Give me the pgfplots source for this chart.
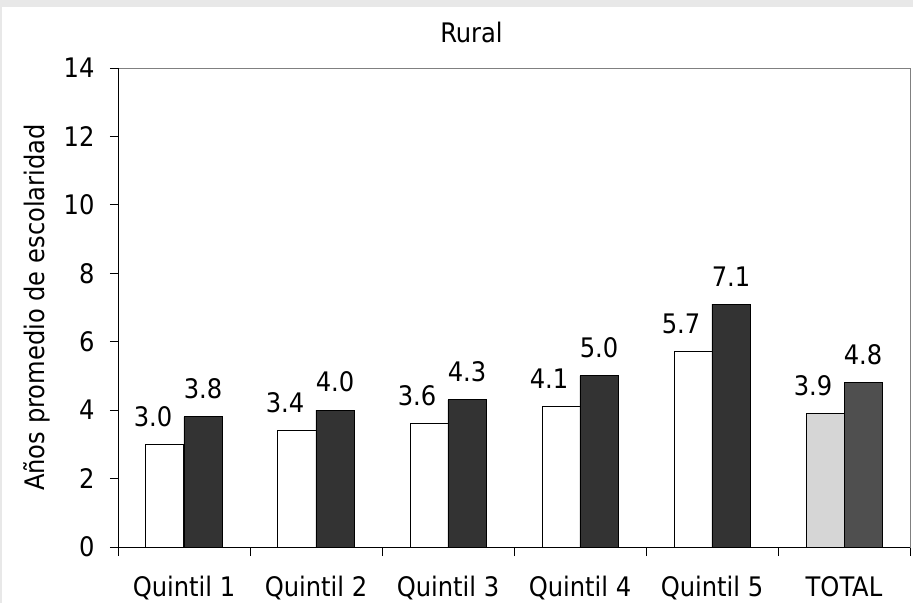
\documentclass[border=0pt]{standalone}
\usepackage{fontspec}
\setmainfont{DejaVu Sans Condensed}
\usepackage{pgfplots}
\pgfplotsset{compat=1.18}

\definecolor{framegray}{HTML}{E8E8E8}
\definecolor{darkbar}{HTML}{333333}
\definecolor{totlight}{HTML}{D6D6D6}
\definecolor{totdark}{HTML}{4F4F4F}

\newcommand{\lbl}{\fontsize{27}{30}\selectfont}

\begin{document}
\begin{tikzpicture}
  % background panel
  \fill[framegray] (-118bp,-56bp) rectangle (795bp,547bp);
  \fill[white] (-116bp,-56bp) rectangle (795bp,540bp);
  \begin{axis}[
      at={(0,0)}, anchor=south west,
      scale only axis, width=792bp, height=479bp,
      xmin=-0.5, xmax=5.5, ymin=0, ymax=14,
      ytick={0,2,...,14},
      xtick={0,...,5},
      xticklabels={Quintil 1,Quintil 2,Quintil 3,Quintil 4,Quintil 5,TOTAL},
      minor xtick={-0.5,0.5,...,5.5},
      xtick pos=bottom, ytick pos=left,
      tick align=outside,
      major tick length=8bp, minor tick length=9bp,
      major x tick style={draw=none},
      minor x tick style={black, line width=0.8pt},
      ytick style={black, line width=0.8pt},
      axis line style={draw=gray, line width=0.8pt},
      /pgf/number format/assume math mode=true,
      tick label style={font=\lbl},
      xticklabel style={anchor=base, inner sep=0pt, yshift=-41bp},
      yticklabel style={xshift=-12bp},
      every axis y label/.style={at={(rel axis cs:0,0.5)}, rotate=90, anchor=center, yshift=81bp, font=\lbl},
      ylabel={Años promedio de escolaridad},
      title={Rural},
      every axis title/.style={at={(rel axis cs:0.4463,1)}, anchor=base, yshift=25bp, font=\lbl},
      ybar, bar width=38bp,
      every axis plot/.append style={draw=black, line width=1pt},
      nodes near coords={\pgfmathprintnumber[fixed,fixed zerofill,precision=1]{\pgfplotspointmeta}},
      nodes near coords style={font=\lbl, anchor=south, yshift=14bp},
      clip=false,
    ]
    % quintiles
    \addplot[fill=white, bar shift=-19bp, nodes near coords style={xshift=-12bp}]
      coordinates {(0,3.0) (1,3.4) (2,3.6) (3,4.1) (4,5.7)};
    \addplot[fill=darkbar, bar shift=19bp]
      coordinates {(0,3.8) (1,4.0) (2,4.3) (3,5.0) (4,7.1)};
    % total
    \addplot[fill=totlight, bar shift=-19bp, nodes near coords style={xshift=-12bp}]
      coordinates {(5,3.9)};
    \addplot[fill=totdark, bar shift=19bp]
      coordinates {(5,4.8)};
    \draw[black, line width=0.8pt] (rel axis cs:0,1) -- (rel axis cs:0,0) -- (rel axis cs:1,0);
  \end{axis}
  \pgfresetboundingbox
  \useasboundingbox (-118bp,-56bp) rectangle (795bp,547bp);
\end{tikzpicture}
\end{document}
